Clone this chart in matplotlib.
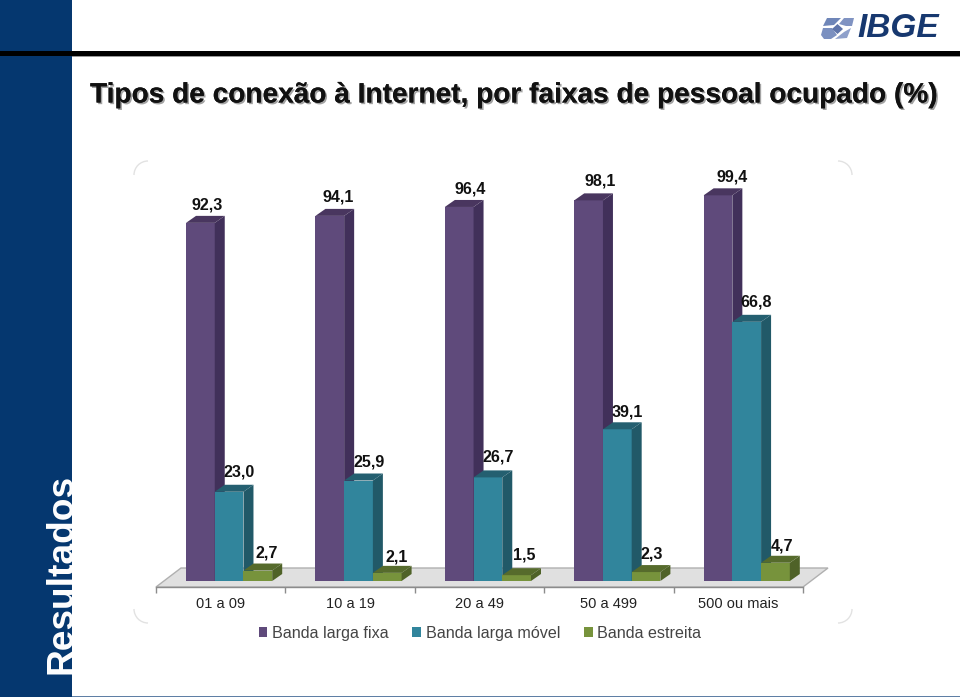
import numpy as np, matplotlib
matplotlib.use('Agg')
import matplotlib.pyplot as plt
from matplotlib.patches import Polygon, Rectangle, Arc
from matplotlib.ticker import FixedLocator, NullFormatter, FixedFormatter
import matplotlib.patheffects as pe

W, H = 960, 697
plt.rcParams['font.family'] = ['Liberation Sans', 'DejaVu Sans']

categorias = ['01 a 09', '10 a 19', '20 a 49', '50 a 499', '500 ou mais']
fixa = [92.3, 94.1, 96.4, 98.1, 99.4]
movel = [23.0, 25.9, 26.7, 39.1, 66.8]
estreita = [2.7, 2.1, 1.5, 2.3, 4.7]
series = ['Banda larga fixa', 'Banda larga móvel', 'Banda estreita']
titulo = 'Tipos de conexão à Internet, por faixas de pessoal ocupado (%)'

# front, side, top
cores = [('#5f4a7b', '#41305a', '#49365f'),
         ('#31859c', '#215968', '#245f70'),
         ('#77933c', '#4f6228', '#566b2c')]

# label offsets in pixels, per series
desloc = [[(7, 18), (8, 19), (11, 18), (12, 19), (14, 18)],
          [(10, 20), (11, 19), (10, 20), (10, 17), (9, 20)],
          [(9, 18), (9, 16), (8, 20), (6, 18), (7, 17)]]

fig = plt.figure(figsize=(W / 100, H / 100), dpi=100)

# slide background in pixel coordinates
bg = fig.add_axes([0, 0, 1, 1])
bg.set_xlim(0, W)
bg.set_ylim(H, 0)
bg.axis('off')
bg.add_patch(Rectangle((0, 0), 72, H, color='#05376f', lw=0))
bg.add_patch(Rectangle((0, 51), W, 5, color='black', lw=0))
bg.add_patch(Rectangle((72, 56), W - 72, 1, color='#999999', lw=0))
bg.add_patch(Rectangle((72, 696), W - 72, 1, color='#5f7fa5', lw=0))

# chart frame, only the rounded corners show
for cx, cy, a in [(148, 175, 180), (838, 175, 270), (838, 609, 0), (148, 609, 90)]:
    bg.add_patch(Arc((cx, cy), 28, 28, theta1=a, theta2=a + 90, color='#e2e2e2', lw=1))

# logo
bg.add_patch(Polygon([(827, 18), (841, 18), (834, 25), (823, 26)], color='#6f86b8', lw=0))
bg.add_patch(Polygon([(844, 18), (854, 18), (852, 26), (846, 26), (839, 24)], color='#8093c2', lw=0))
bg.add_patch(Polygon([(823, 28), (832, 28), (837, 35), (831, 39), (824, 39), (821, 35)], color='#7b90c0', lw=0))
bg.add_patch(Polygon([(844, 32), (851, 28), (847, 38), (835, 39)], color='#8fa1cb', lw=0))
bg.add_patch(Polygon([(837.5, 24), (843, 29), (837.5, 34), (832, 29)], color='#5f75aa', lw=0))
bg.text(857, 28.5, 'IBGE', fontsize=24, fontweight='bold', style='italic', color='#17386f', va='center', ha='left')

ttl = bg.text(90, 95.5, titulo, fontsize=20.2, fontweight='bold', color='#111111', va='center', ha='left')
ttl.set_path_effects([pe.withSimplePatchShadow(offset=(1.2, -1.2), shadow_rgbFace='#999999', alpha=0.9), pe.Normal()])

bg.text(62, 574, 'Resultados', fontsize=26.7, fontweight='bold', color='white', rotation=90, va='center', ha='center')

# chart axes: 5 categories over px 156-803, 3.88 px per unit, zero at px 581
ymax = 105
ax = fig.add_axes([156 / W, (H - 581) / H, (803 - 156) / W, 3.88 * ymax / H])
ax.patch.set_alpha(0)
ax.set_xlim(0, 5)
ax.set_ylim(0, ymax)
for s in ['top', 'left', 'right']:
    ax.spines[s].set_visible(False)
ax.spines['bottom'].set_position(('outward', 4.3))
ax.spines['bottom'].set_color('#8c8c8c')
ax.spines['bottom'].set_linewidth(1)
ax.yaxis.set_visible(False)
ax.xaxis.set_major_locator(FixedLocator(np.arange(6)))
ax.xaxis.set_major_formatter(NullFormatter())
ax.xaxis.set_minor_locator(FixedLocator(np.arange(5) + 0.5))
ax.xaxis.set_minor_formatter(FixedFormatter(categorias))
ax.tick_params(axis='x', which='major', length=4, color='#8c8c8c', width=1)
ax.tick_params(axis='x', which='minor', length=0, pad=7.5, labelsize=10.5, labelcolor='#222222')

# 3D depth expressed in data units
dx = 10 / ((803 - 156) / 5)
dy = 7 / 3.88
bw = 0.222
inicio = 0.232

ax.add_patch(Polygon([(0, -6 / 3.88), (5, -6 / 3.88), (5 + 25 / 129.4, 13 / 3.88), (25 / 129.4, 13 / 3.88)],
                     closed=True, fc='#e0e0e0', ec='#b0b0b0', lw=1, clip_on=False, zorder=1))

handles = []
for j, vals in enumerate([fixa, movel, estreita]):
    frente, lado, topo = cores[j]
    x = np.arange(5) + inicio + j * bw
    barras = ax.bar(x, vals, width=bw, align='edge', color=frente, lw=0, zorder=3 + j, label=series[j])
    handles.append(barras)
    for xi, v, off in zip(x, vals, desloc[j]):
        ax.add_patch(Polygon([(xi + bw, 0), (xi + bw + dx, dy), (xi + bw + dx, v + dy), (xi + bw, v)],
                             fc=lado, lw=0, zorder=3 + j))
        ax.add_patch(Polygon([(xi, v), (xi + bw, v), (xi + bw + dx, v + dy), (xi + dx, v + dy)],
                             fc=topo, lw=0, zorder=3 + j))
        ax.annotate(f'{v:.1f}'.replace('.', ','), (xi + bw / 2, v), xytext=off, textcoords='offset pixels',
                    ha='center', va='center', fontsize=11.6, fontweight='bold', color='#111111', zorder=10)

leg = ax.legend(handles=handles, loc='center', ncol=3, frameon=False,
                fontsize=11.6, labelcolor='#444444', handlelength=0.55, handleheight=0.55, handletextpad=0.3,
                columnspacing=1.45)
leg.set_bbox_to_anchor((480 / W, (H - 633.5) / H), transform=fig.transFigure)

fig.savefig('out.png', dpi=100)
